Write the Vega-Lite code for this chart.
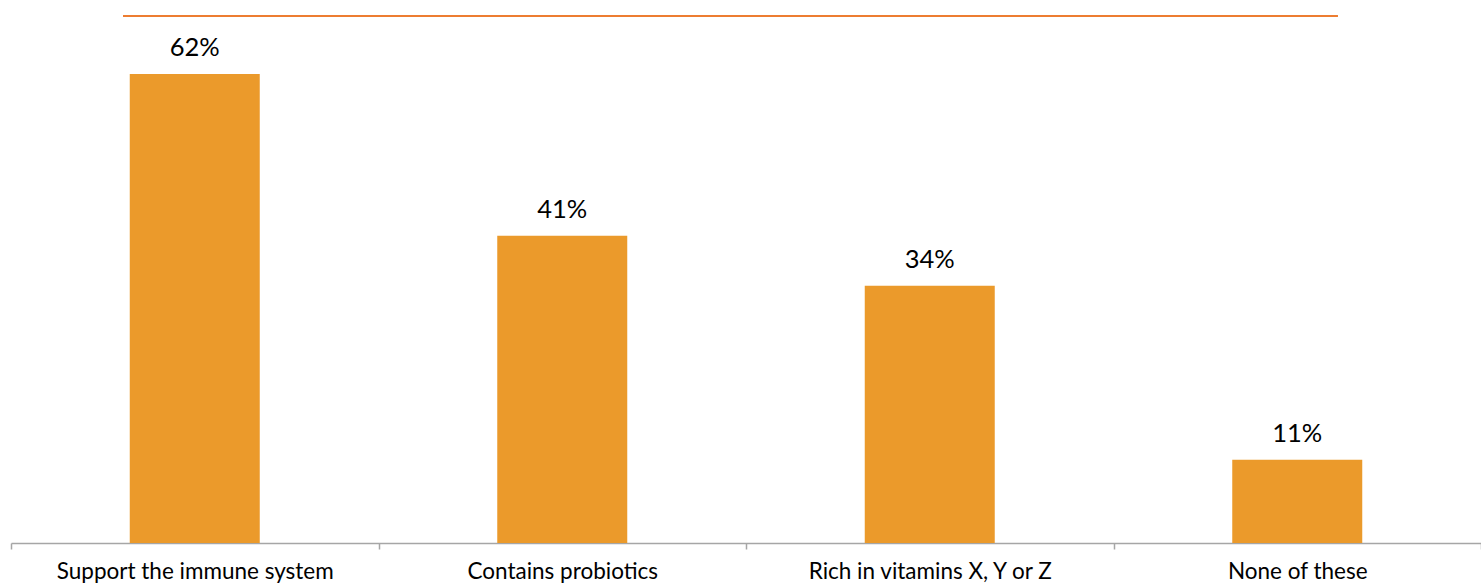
{
  "$schema": "https://vega.github.io/schema/vega-lite/v6.json",
  "autosize": {"type": "none"},
  "width": 1470,
  "height": 527,
  "padding": {"left": 11, "top": 16, "right": 0, "bottom": 42},
  "background": "white",
  "config": {"view": {"stroke": null}, "font": "Lato"},
  "layer": [
    {
      "data": {"values": [
        {"category": "Support the immune system", "share": 0.62},
        {"category": "Contains probiotics", "share": 0.406},
        {"category": "Rich in vitamins X, Y or Z", "share": 0.34},
        {"category": "None of these", "share": 0.11}
      ]},
      "encoding": {
        "x": {"field": "category", "type": "nominal", "sort": null,
              "scale": {"paddingInner": 0, "paddingOuter": 0}},
        "y": {"field": "share", "type": "quantitative", "scale": {"domain": [0, 0.6966], "nice": false, "zero": true}, "axis": null}
      },
      "layer": [
        {
          "mark": {"type": "bar", "size": 130, "color": "#EB9A2B"},
          "encoding": {
            "x": {"field": "category", "type": "nominal", "sort": null,
                  "scale": {"paddingInner": 0, "paddingOuter": 0},
                  "axis": {"title": null, "labelAngle": 0, "labelFontSize": 22.5, "labelColor": "#000000", "labelFont": "Lato",
                           "labelLimit": 0, "labelOverlap": false,
                           "domainColor": "#A6A6A6", "tickColor": "#A6A6A6", "tickSize": 6, "tickBand": "extent",
                           "labelPadding": 11, "grid": false, "domainWidth": 1.5, "tickWidth": 1.5}}
          }
        },
        {
          "mark": {"type": "text", "dy": -18, "baseline": "alphabetic", "fontSize": 25.5, "color": "#000000", "font": "Lato"},
          "encoding": {"text": {"field": "share", "format": ".0%"}}
        }
      ]
    },
    {
      "data": {"values": [{"start": 0.0762, "end": 0.9027, "level": 0.6966}]},
      "mark": {"type": "rule", "color": "#ED7D31", "strokeWidth": 2},
      "encoding": {
        "x": {"field": "start", "type": "quantitative", "scale": {"domain": [0, 1], "nice": false}, "axis": null},
        "x2": {"field": "end"},
        "y": {"field": "level", "type": "quantitative"}
      }
    }
  ],
  "resolve": {"scale": {"x": "independent"}}
}
